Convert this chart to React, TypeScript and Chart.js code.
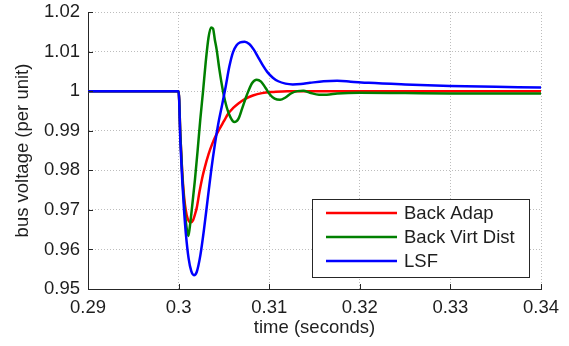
import React, { useEffect, useRef } from "react";
import { Chart, registerables } from "chart.js";

Chart.register(...registerables);

// ---- data ----
const xTicks = [0.29, 0.3, 0.31, 0.32, 0.33, 0.34];
const xTickLabels = ["0.29", "0.3", "0.31", "0.32", "0.33", "0.34"];
const yTicks = [0.95, 0.96, 0.97, 0.98, 0.99, 1.0, 1.01, 1.02];
const yTickLabels = ["0.95", "0.96", "0.97", "0.98", "0.99", "1", "1.01", "1.02"];

const seriesNames = ["Back Adap", "Back Virt Dist", "LSF"];
const seriesColors = ["#ff0000", "#008000", "#0000ff"];

const redTime = [
  0.29, 0.3, 0.3002, 0.3004, 0.3006, 0.3008, 0.301, 0.30133, 0.3016, 0.3018,
  0.302, 0.3023, 0.3026, 0.3029, 0.3033, 0.3037, 0.3041, 0.3045, 0.305, 0.3055,
  0.306, 0.3066, 0.3073, 0.3082, 0.3092, 0.3105, 0.312, 0.34,
];
const redVolt = [
  1.0, 1.0, 0.9885, 0.9795, 0.9735, 0.9698, 0.9678, 0.9668, 0.9674, 0.9688,
  0.9705, 0.9745, 0.978, 0.9808, 0.984, 0.9866, 0.9887, 0.9904, 0.9924, 0.9944,
  0.9957, 0.9969, 0.998, 0.9989, 0.9995, 0.9998, 1.0, 1.0,
];

const greenTime = [
  0.29, 0.3, 0.3002, 0.3004, 0.3006, 0.3008, 0.30107, 0.3012, 0.3015, 0.3018,
  0.3021, 0.3024, 0.3027, 0.303, 0.3033, 0.30358, 0.3038, 0.304, 0.3042, 0.3045,
  0.3049, 0.3053, 0.3057, 0.30615, 0.3066, 0.307, 0.3074, 0.3077, 0.3081, 0.30862,
  0.3091, 0.3096, 0.3101, 0.3106, 0.3112, 0.3118, 0.3124, 0.3131, 0.31377, 0.3145,
  0.3155, 0.31635, 0.3175, 0.32, 0.325, 0.33, 0.34,
];
const greenVolt = [
  1.0, 1.0, 0.9885, 0.979, 0.972, 0.967, 0.9634, 0.965, 0.971, 0.9775,
  0.985, 0.993, 1.0, 1.0075, 1.0135, 1.0161, 1.0158, 1.013, 1.0105, 1.0055,
  1.0, 0.996, 0.9935, 0.9922, 0.993, 0.9955, 0.9982, 1.0, 1.002, 1.0029,
  1.0024, 1.0008, 0.9991, 0.9981, 0.9978, 0.9984, 0.9994, 1.0, 1.0001, 0.9996,
  0.9991, 0.9991, 0.9994, 0.9996, 0.9995, 0.9994, 0.9994,
];

const blueTime = [
  0.29, 0.3, 0.3002, 0.3004, 0.3006, 0.3008, 0.3011, 0.3014, 0.3017, 0.302,
  0.3024, 0.3028, 0.3032, 0.3036, 0.304, 0.3044, 0.3048, 0.3052, 0.3056, 0.306,
  0.3064, 0.3068, 0.3073, 0.3078, 0.3083, 0.3088, 0.3093, 0.3098, 0.3104, 0.311,
  0.3118, 0.3126, 0.3135, 0.3145, 0.316, 0.3175, 0.319, 0.321, 0.325, 0.33,
  0.335, 0.34,
];
const blueVolt = [
  1.0, 1.0, 0.987, 0.9775, 0.97, 0.964, 0.9578, 0.9545, 0.9535, 0.9543,
  0.9585, 0.965, 0.9725, 0.98, 0.9865, 0.992, 0.9965, 1.0012, 1.0062, 1.0098,
  1.0116, 1.0123, 1.0125, 1.0119, 1.0105, 1.0085, 1.0065, 1.0048, 1.0034, 1.0025,
  1.0019, 1.0017, 1.0018, 1.0021, 1.0025, 1.0026, 1.0024, 1.0021, 1.0017, 1.0013,
  1.0011, 1.0009,
];

const xTitle = "time (seconds)";
const yTitle = "bus voltage (per unit)";

// ---- styles ----
const FONT = "'Liberation Sans', Arial, Helvetica, sans-serif";
const FONT_SIZE = 18.5;
const TEXT_COLOR = "#1e1e1e";
const AXIS_COLOR = "#262626";
const GRID_COLOR = "#bdbdbd";

const zip = (t: number[], v: number[]) => t.map((x, i) => ({ x, y: v[i] }));

const inwardTicks = {
  id: "inwardTicks",
  afterDraw(chart: any) {
    const { ctx, chartArea: a, scales } = chart;
    const xs = scales.x;
    const ys = scales.y;
    ctx.save();
    ctx.strokeStyle = AXIS_COLOR;
    ctx.lineWidth = 1;
    ctx.beginPath();
    xTicks.forEach((v) => {
      const px = Math.round(xs.getPixelForValue(v)) + 0.5;
      ctx.moveTo(px, a.bottom);
      ctx.lineTo(px, a.bottom - 5);
    });
    yTicks.forEach((v) => {
      const py = Math.round(ys.getPixelForValue(v)) + 0.5;
      ctx.moveTo(a.left, py);
      ctx.lineTo(a.left + 5, py);
    });
    ctx.stroke();
    ctx.restore();
  },
};

const boxLegend = {
  id: "boxLegend",
  afterDraw(chart: any) {
    const { ctx, chartArea: a } = chart;
    const w = 217;
    const h = 78;
    const right = Math.round(a.right - 12);
    const bottom = Math.round(a.bottom - 12);
    const left = right - w;
    const top = bottom - h;
    ctx.save();
    ctx.fillStyle = "#ffffff";
    ctx.fillRect(left, top, w, h);
    ctx.strokeStyle = AXIS_COLOR;
    ctx.lineWidth = 1;
    ctx.strokeRect(left + 0.5, top + 0.5, w, h);
    ctx.font = `${FONT_SIZE}px ${FONT}`;
    ctx.textBaseline = "middle";
    ctx.textAlign = "left";
    seriesNames.forEach((name, i) => {
      const y = top + 14 + i * 24;
      ctx.strokeStyle = seriesColors[i];
      ctx.lineWidth = 2.5;
      ctx.beginPath();
      ctx.moveTo(left + 14, y);
      ctx.lineTo(left + 85, y);
      ctx.stroke();
      ctx.fillStyle = TEXT_COLOR;
      ctx.fillText(name, left + 92, y + 1);
    });
    ctx.restore();
  },
};

export default function App() {
  const ref = useRef<HTMLCanvasElement | null>(null);

  useEffect(() => {
    if (!ref.current) return;
    const series = [zip(redTime, redVolt), zip(greenTime, greenVolt), zip(blueTime, blueVolt)];
    const chart = new Chart(ref.current, {
      type: "line",
      data: {
        datasets: series.map((d, i) => ({
          label: seriesNames[i],
          data: d,
          borderColor: seriesColors[i],
          backgroundColor: seriesColors[i],
          borderWidth: 2.5,
          pointRadius: 0,
          fill: false,
          cubicInterpolationMode: "monotone" as const,
          order: 3 - i,
        })),
      },
      options: {
        animation: false,
        responsive: false,
        parsing: true,
        layout: { padding: { top: 12, right: 28, left: 0, bottom: 0 } },
        plugins: {
          legend: { display: false },
          tooltip: { enabled: false },
        },
        scales: {
          x: {
            type: "linear",
            min: 0.29,
            max: 0.34,
            afterBuildTicks: (s: any) => {
              s.ticks = xTicks.map((v) => ({ value: v }));
            },
            afterFit: (s: any) => {
              s.height = 57;
            },
            ticks: {
              callback: (_v: any, i: number) => xTickLabels[i],
              font: { family: FONT, size: FONT_SIZE },
              color: TEXT_COLOR,
              padding: 8,
              maxRotation: 0,
              autoSkip: false,
            },
            grid: { drawTicks: false, color: GRID_COLOR, lineWidth: 1 },
            border: { display: true, color: AXIS_COLOR, width: 1, dash: [1, 2] },
            title: {
              display: true,
              text: xTitle,
              font: { family: FONT, size: FONT_SIZE },
              color: TEXT_COLOR,
              padding: { top: 0, bottom: 7 },
            },
          },
          y: {
            type: "linear",
            min: 0.95,
            max: 1.02,
            afterBuildTicks: (s: any) => {
              s.ticks = yTicks.map((v) => ({ value: v }));
            },
            afterFit: (s: any) => {
              s.width = 88;
              s.paddingTop = 0;
              s.paddingBottom = 0;
            },
            ticks: {
              callback: (_v: any, i: number) => yTickLabels[i],
              font: { family: FONT, size: FONT_SIZE, lineHeight: 0.6 },
              color: TEXT_COLOR,
              padding: 8,
              autoSkip: false,
            },
            grid: { drawTicks: false, color: GRID_COLOR, lineWidth: 1 },
            border: { display: true, color: AXIS_COLOR, width: 1, dash: [1, 2] },
            title: {
              display: true,
              text: yTitle,
              font: { family: FONT, size: FONT_SIZE },
              color: TEXT_COLOR,
              padding: { top: 12, bottom: 0 },
            },
          },
        },
      },
      plugins: [inwardTicks, boxLegend],
    } as any);
    return () => chart.destroy();
  }, []);

  return (
    <div style={{ position: "absolute", left: 0, top: 0, width: 569, height: 346, background: "#fff" }}>
      <canvas ref={ref} width={569} height={346} style={{ display: "block" }} />
    </div>
  );
}
